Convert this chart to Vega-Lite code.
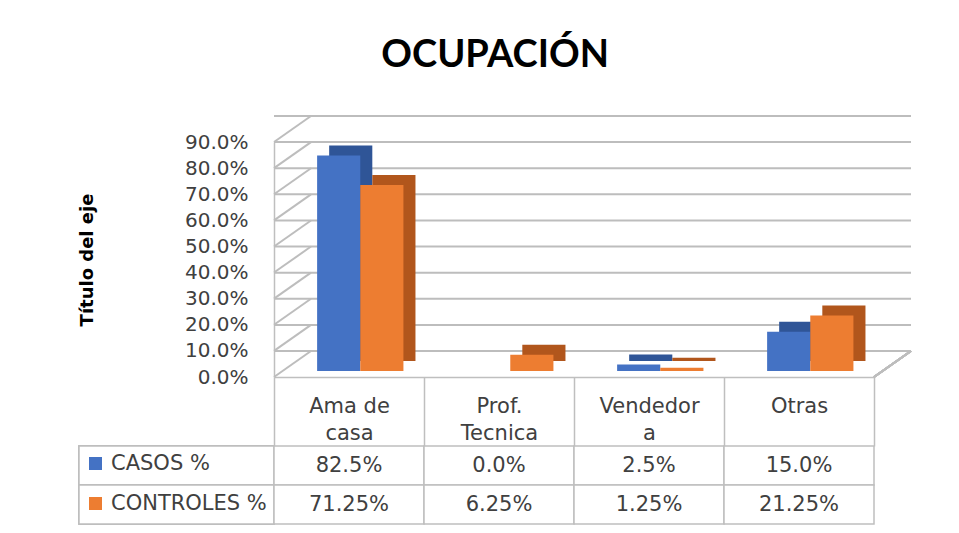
{
  "$schema": "https://vega.github.io/schema/vega-lite/v6.json",
  "padding": {"left": 78, "top": 37, "right": 5, "bottom": 5},
  "background": "white",
  "title": {"text": "OCUPACIÓN", "font": "Lato", "fontSize": 38, "fontWeight": "bold", "color": "#000000", "anchor": "middle", "offset": 40},
  "config": {"view": {"stroke": null}, "font": "DejaVu Sans"},
  "datasets": {
    "d": [
      {"cat": "Ama de casa", "serie": "CASOS %", "v": 0.825},
      {"cat": "Prof. Tecnica", "serie": "CASOS %", "v": 0.0},
      {"cat": "Vendedora", "serie": "CASOS %", "v": 0.025},
      {"cat": "Otras", "serie": "CASOS %", "v": 0.15},
      {"cat": "Ama de casa", "serie": "CONTROLES %", "v": 0.7125},
      {"cat": "Prof. Tecnica", "serie": "CONTROLES %", "v": 0.0625},
      {"cat": "Vendedora", "serie": "CONTROLES %", "v": 0.0125},
      {"cat": "Otras", "serie": "CONTROLES %", "v": 0.2125}
    ],
    "grid": [
      {"v": 0}, {"v": 0.1}, {"v": 0.2}, {"v": 0.3}, {"v": 0.4},
      {"v": 0.5}, {"v": 0.6}, {"v": 0.7}, {"v": 0.8}, {"v": 0.9}
    ]
  },
  "columns": 2,
  "spacing": {"row": 69, "column": 0},
  "bounds": "flush",
  "concat": [
    {
      "width": 195, "height": 235,
      "data": {"values": [{}]},
      "mark": {"type": "point", "opacity": 0}
    },
    {
      "width": 600, "height": 235,
      "data": {"name": "d"},
      "resolve": {"scale": {"xOffset": "independent"}},
      "layer": [
        {
          "data": {"name": "grid"},
          "mark": {"type": "rule", "color": "#bdbdbd", "strokeWidth": 2, "xOffset": 37, "x2Offset": 37, "yOffset": -26, "y2Offset": -26},
          "encoding": {
            "y": {
              "field": "v", "type": "quantitative", "title": "Título del eje", "scale": {"domain": [0, 0.9], "nice": false},
              "axis": {
                "values": [0, 0.1, 0.2, 0.3, 0.4, 0.5, 0.6, 0.7, 0.8, 0.9], "tickCount": 10, "format": ".1%", "labelOverlap": false,
                "labelFont": "DejaVu Sans", "labelFontSize": 20, "labelColor": "#404040", "labelPadding": 26,
                "ticks": false, "grid": false, "domainColor": "#bfbfbf", "domainWidth": 1.5,
                "titleFont": "DejaVu Sans", "titleFontSize": 18, "titleFontWeight": "bold", "titleColor": "#000000", "titlePadding": 88
              }
            }
          }
        },
        {
          "data": {"name": "grid"},
          "mark": {"type": "rule", "color": "#bdbdbd", "strokeWidth": 2, "x2Offset": 37, "y2Offset": -26},
          "encoding": {
            "x": {"datum": "Ama de casa", "bandPosition": 0, "type": "nominal", "title": null},
            "x2": {"datum": "Ama de casa", "bandPosition": 0},
            "y": {"field": "v", "type": "quantitative", "title": "Título del eje"},
            "y2": {"field": "v"}
          }
        },
        {
          "mark": {"type": "rule", "color": "#bdbdbd", "strokeWidth": 2, "x2Offset": 37, "y2Offset": -26},
          "encoding": {
            "x": {"datum": "Otras", "bandPosition": 1, "type": "nominal", "title": null},
            "x2": {"datum": "Otras", "bandPosition": 1},
            "y": {"datum": 0, "type": "quantitative", "title": "Título del eje"},
            "y2": {"datum": 0}
          }
        },
        {
          "mark": {"type": "bar", "yOffset": -16, "y2Offset": -16},
          "encoding": {
            "x": {"field": "cat", "type": "nominal", "sort": ["Ama de casa", "Prof. Tecnica", "Vendedora", "Otras"], "title": null},
            "xOffset": {"field": "serie", "type": "nominal", "sort": ["CASOS %", "CONTROLES %"], "scale": {"paddingInner": 0, "paddingOuter": 0.738, "align": 0.866}},
            "y": {"field": "v", "type": "quantitative", "title": "Título del eje"},
            "color": {"condition": {"test": "datum.serie === 'CASOS %'", "value": "#2f5597"}, "value": "#b1561c"}
          }
        },
        {
          "mark": {"type": "bar", "yOffset": -6, "y2Offset": -6},
          "encoding": {
            "x": {
              "field": "cat", "type": "nominal", "sort": ["Ama de casa", "Prof. Tecnica", "Vendedora", "Otras"], "title": null,
              "scale": {"paddingInner": 0, "paddingOuter": 0},
              "axis": {
                "orient": "bottom", "labelAngle": 0, "labelAlign": "center", "labelOverlap": false,
                "labelExpr": "datum.value == 'Ama de casa' ? ['Ama de', 'casa'] : datum.value == 'Prof. Tecnica' ? ['Prof.', 'Tecnica'] : datum.value == 'Vendedora' ? ['Vendedor', 'a'] : datum.value",
                "labelFont": "DejaVu Sans", "labelFontSize": 21, "labelColor": "#404040", "labelLineHeight": 27,
                "labelBaseline": "top", "labelPadding": -51,
                "tickBand": "extent", "tickSize": 69, "tickColor": "#bfbfbf", "tickWidth": 1.5,
                "domainColor": "#bfbfbf", "domainWidth": 1.5
              }
            },
            "xOffset": {"field": "serie", "type": "nominal", "sort": ["CASOS %", "CONTROLES %"], "scale": {"paddingInner": 0, "paddingOuter": 0.738, "align": 0.677}},
            "y": {
              "field": "v", "type": "quantitative", "title": "Título del eje",
              "axis": {
                "values": [0, 0.1, 0.2, 0.3, 0.4, 0.5, 0.6, 0.7, 0.8, 0.9], "tickCount": 10, "format": ".1%", "labelOverlap": false,
                "labelFont": "DejaVu Sans", "labelFontSize": 20, "labelColor": "#404040", "labelPadding": 26,
                "ticks": false, "grid": false, "domainColor": "#bfbfbf", "domainWidth": 1.5,
                "titleFont": "DejaVu Sans", "titleFontSize": 18, "titleFontWeight": "bold", "titleColor": "#000000", "titlePadding": 88
              }
            },
            "color": {
              "field": "serie", "type": "nominal",
              "scale": {"domain": ["CASOS %", "CONTROLES %"], "range": ["#4472c4", "#ed7d31"]},
              "legend": {
                "orient": "none", "legendX": 6, "legendY": 311, "title": null, "padding": 0,
                "symbolType": "square", "symbolSize": 169, "symbolStrokeWidth": 0, "symbolOpacity": 1,
                "labelFont": "DejaVu Sans", "labelFontSize": 21, "labelColor": "#404040", "labelOffset": 5,
                "rowPadding": 18
              }
            }
          }
        }
      ]
    },
    {
      "width": 195, "height": 78,
      "data": {"name": "d"},
      "mark": {"type": "rect", "fill": "white", "stroke": "#bfbfbf", "strokeWidth": 1.5},
      "encoding": {
        "y": {"field": "serie", "type": "nominal", "sort": ["CASOS %", "CONTROLES %"], "axis": null, "scale": {"paddingInner": 0, "paddingOuter": 0}}
      }
    },
    {
      "width": 600, "height": 78,
      "data": {"name": "d"},
      "encoding": {
        "x": {"field": "cat", "type": "nominal", "sort": ["Ama de casa", "Prof. Tecnica", "Vendedora", "Otras"], "axis": null, "scale": {"paddingInner": 0, "paddingOuter": 0}},
        "y": {"field": "serie", "type": "nominal", "sort": ["CASOS %", "CONTROLES %"], "axis": null, "scale": {"paddingInner": 0, "paddingOuter": 0}}
      },
      "layer": [
        {"mark": {"type": "rect", "fill": "white", "stroke": "#bfbfbf", "strokeWidth": 1.5}},
        {
          "mark": {"type": "text", "font": "DejaVu Sans", "fontSize": 21, "color": "#404040"},
          "encoding": {
            "text": {
              "condition": {"test": "datum.serie === 'CASOS %'", "field": "v", "type": "quantitative", "format": ".1%"},
              "field": "v", "type": "quantitative", "format": ".2%"
            }
          }
        }
      ]
    }
  ]
}
